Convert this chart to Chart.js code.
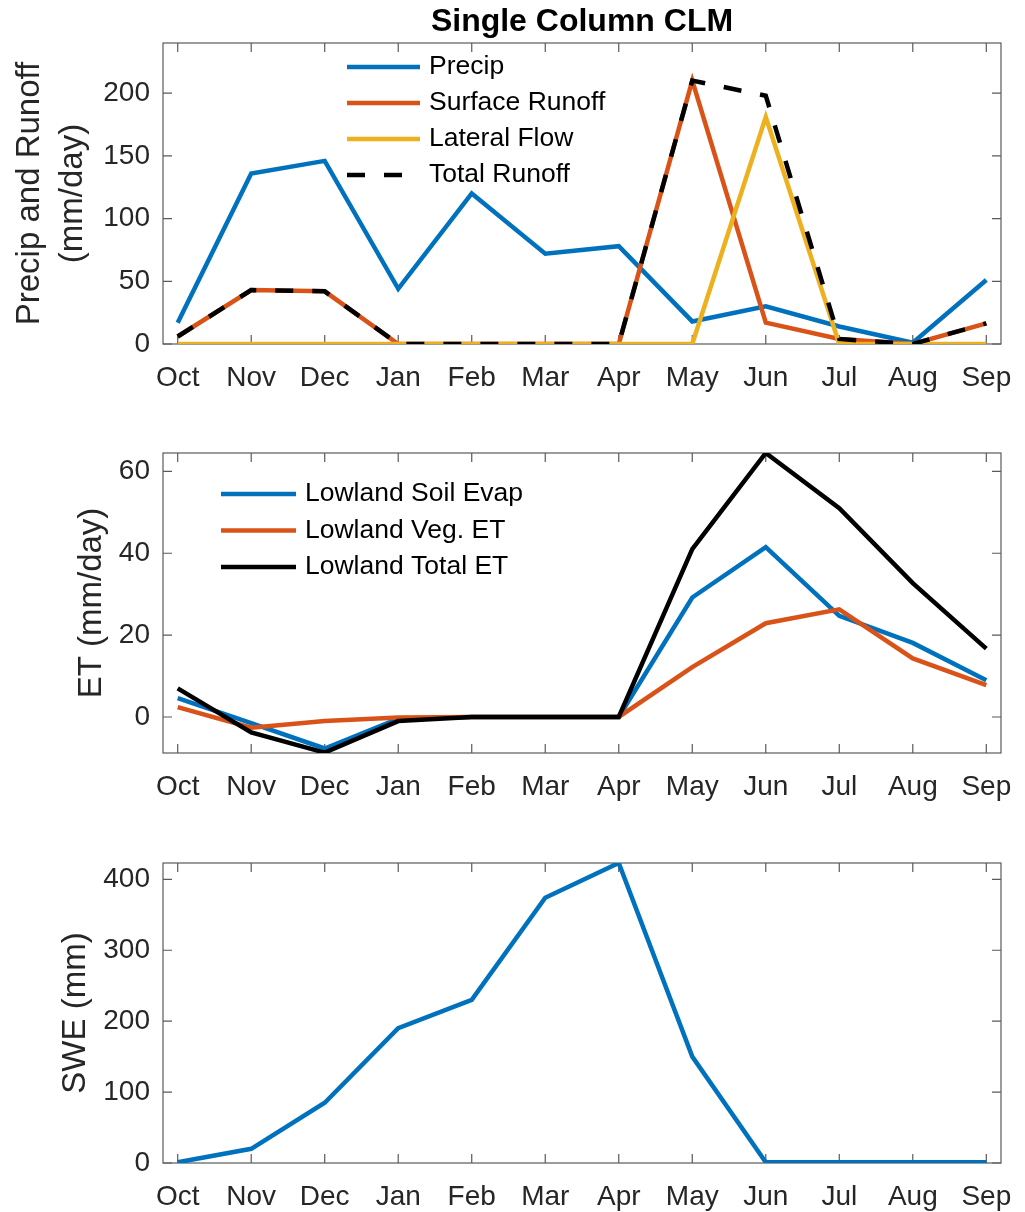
<!DOCTYPE html>
<html>
<head>
<meta charset="utf-8">
<script src="https://cdn.jsdelivr.net/npm/chart.js@4.4.1/dist/chart.umd.min.js"></script>
<style>
    body { margin: 0; background: #fff; }
    #wrap { position: relative; width: 1025px; height: 1212px; }
    .panel { position: absolute; left: 0; }
</style>
</head>
<body>
<div id="wrap">
    <div class="panel" style="top:0"><canvas id="runoff-chart" width="1025" height="410"></canvas></div>
    <div class="panel" style="top:410px"><canvas id="et-chart" width="1025" height="410"></canvas></div>
    <div class="panel" style="top:820px"><canvas id="swe-chart" width="1025" height="392"></canvas></div>
</div>
<script>
// water year months
const months = ['Oct', 'Nov', 'Dec', 'Jan', 'Feb', 'Mar', 'Apr', 'May', 'Jun', 'Jul', 'Aug', 'Sep'];

// top panel (mm/day)
const precip        = [17, 136, 146, 44, 120, 72, 78, 18, 30, 14, 1, 51];
const surfaceRunoff = [6, 43, 42, 0, 0, 0, 0, 210, 17, 4, 0, 16.5];
const lateralFlow   = [0, 0, 0, 0, 0, 0, 0, 0, 181, 0, 0, 0];
const totalRunoff   = [6, 43, 42, 0, 0, 0, 0, 210, 198, 4, 0, 16.5];

// middle panel (mm/day)
const soilEvap = [4.6, -1.5, -7.7, -0.4, 0, 0, 0, 29.2, 41.5, 24.7, 18.1, 9.0];
const vegET    = [2.4, -2.6, -1.0, -0.1, 0, 0, 0, 12.2, 22.9, 26.3, 14.3, 7.8];
const totalET  = [7.0, -3.8, -8.7, -1.0, 0, 0, 0, 41.0, 64.5, 51.0, 32.7, 16.7];

// bottom panel (mm)
const swe = [1, 20, 85, 190, 230, 374, 423, 150, 1, 1, 1, 1];

// tick labels and axis limits
const runoffTicks = [0, 50, 100, 150, 200];
const etTicks = [0, 20, 40, 60];
const sweTicks = [0, 100, 200, 300, 400];
const runoffLim = [0, 240];
const etLim = [-8.8, 64.5];
const sweLim = [0, 423];

const BLUE = '#0072BD', ORANGE = '#D95319', YELLOW = '#EDB120', BLACK = '#000000';
const FONT = '"Liberation Sans", Arial, Helvetica, sans-serif';
const AXIS = '#262626';

const series = (label, values, color, order, extra = {}) => ({
    label: label,
    data: values.map((v, i) => ({ x: i + 1, y: v })),
    borderColor: color,
    backgroundColor: color,
    borderWidth: 4.5,
    pointRadius: 0,
    tension: 0,
    fill: false,
    order: order,
    ...extra
});

// matlab-ish box with inward ticks on all four sides
const boxTicks = {
    id: 'boxTicks',
    beforeDatasetsDraw(chart) {
        const { ctx, chartArea: a, scales } = chart;
        const x = scales.x, y = scales.y;
        ctx.save();
        ctx.strokeStyle = '#5a5a5a';
        ctx.lineWidth = 1.2;
        ctx.strokeRect(a.left, a.top, a.right - a.left, a.bottom - a.top);
        ctx.beginPath();
        x.ticks.forEach(t => {
            const px = x.getPixelForValue(t.value);
            ctx.moveTo(px, a.bottom); ctx.lineTo(px, a.bottom - 9);
            ctx.moveTo(px, a.top); ctx.lineTo(px, a.top + 9);
        });
        y.ticks.forEach(t => {
            const py = y.getPixelForValue(t.value);
            ctx.moveTo(a.left, py); ctx.lineTo(a.left + 9, py);
            ctx.moveTo(a.right, py); ctx.lineTo(a.right - 9, py);
        });
        ctx.stroke();
        ctx.restore();
    }
};

// legend inside the axes, like matlab with box off
const insideLegend = {
    id: 'insideLegend',
    afterDatasetsDraw(chart, args, opts) {
        if (opts.x === undefined) return;
        const ctx = chart.ctx;
        ctx.save();
        ctx.font = '26.5px ' + FONT;
        ctx.textBaseline = 'middle';
        chart.data.datasets.forEach((ds, i) => {
            const yy = opts.y + i * opts.gap;
            ctx.strokeStyle = ds.borderColor;
            ctx.lineWidth = ds.borderWidth;
            ctx.setLineDash(ds.borderDash || []);
            ctx.beginPath();
            ctx.moveTo(opts.x, yy);
            ctx.lineTo(opts.x + opts.len, yy);
            ctx.stroke();
            ctx.setLineDash([]);
            ctx.fillStyle = '#000';
            ctx.fillText(ds.label, opts.x + opts.len + 9, yy);
        });
        ctx.restore();
    }
};

const makePanel = (elname, datasets, cfg) => {
    const ctx = document.getElementById(elname);
    return new Chart(ctx, {
        type: 'line',
        data: { datasets: datasets },
        plugins: [boxTicks, insideLegend],
        options: {
            responsive: false,
            animation: false,
            events: [],
            layout: { padding: { top: cfg.padTop, right: 24, left: 0, bottom: 0 } },
            plugins: {
                legend: { display: false },
                tooltip: { enabled: false },
                title: cfg.title ? {
                    display: true,
                    text: cfg.title,
                    fullSize: false,
                    color: '#000',
                    font: { family: FONT, size: 32, weight: 'bold', lineHeight: 1.2 },
                    padding: { top: 3, bottom: 1.6 }
                } : { display: false },
                insideLegend: cfg.legend || {}
            },
            scales: {
                x: {
                    type: 'linear',
                    min: 0.8,
                    max: 12.2,
                    grid: { display: false, drawTicks: false },
                    border: { display: false },
                    afterBuildTicks: s => { s.ticks = months.map((m, i) => ({ value: i + 1 })); },
                    afterFit: s => {
                        s.height = cfg.xHeight;
                        s.paddingLeft = 0;
                        s.paddingRight = 0;
                    },
                    ticks: {
                        autoSkip: false,
                        maxRotation: 0,
                        padding: 17,
                        color: AXIS,
                        font: { family: FONT, size: 28 },
                        callback: v => months[v - 1]
                    }
                },
                y: {
                    type: 'linear',
                    min: cfg.lim[0],
                    max: cfg.lim[1],
                    grid: { display: false, drawTicks: false },
                    border: { display: false },
                    afterBuildTicks: s => { s.ticks = cfg.ticks.map(v => ({ value: v })); },
                    afterFit: s => { s.width = 163; },
                    ticks: {
                        padding: 13,
                        color: AXIS,
                        font: { family: FONT, size: 28 }
                    },
                    title: {
                        display: true,
                        text: cfg.yTitle,
                        color: AXIS,
                        font: { family: FONT, size: 33, lineHeight: 1.32 },
                        padding: { top: cfg.titlePad, bottom: 0 }
                    }
                }
            }
        }
    });
};

makePanel('runoff-chart', [
    series('Precip', precip, BLUE, 4),
    series('Surface Runoff', surfaceRunoff, ORANGE, 3),
    series('Lateral Flow', lateralFlow, YELLOW, 2),
    series('Total Runoff', totalRunoff, BLACK, 1, { borderDash: [18, 19] })
], {
    title: 'Single Column CLM', padTop: 0, xHeight: 66,
    lim: runoffLim, ticks: runoffTicks,
    yTitle: ['Precip and Runoff', '(mm/day)'], titlePad: 8,
    legend: { x: 347, y: 67, gap: 36, len: 73 }
});

makePanel('et-chart', [
    series('Lowland Soil Evap', soilEvap, BLUE, 3),
    series('Lowland Veg. ET', vegET, ORANGE, 2),
    series('Lowland Total ET', totalET, BLACK, 1)
], {
    padTop: 43, xHeight: 67,
    lim: etLim, ticks: etTicks,
    yTitle: 'ET (mm/day)', titlePad: 70,
    legend: { x: 221, y: 84, gap: 36.5, len: 75 }
});

makePanel('swe-chart', [
    series('SWE', swe, BLUE, 1)
], {
    padTop: 43, xHeight: 49,
    lim: sweLim, ticks: sweTicks,
    yTitle: 'SWE (mm)', titlePad: 54
});
</script>
</body>
</html>
